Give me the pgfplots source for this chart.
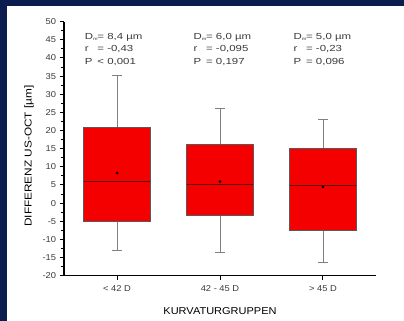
\documentclass[border=0pt]{standalone}
\usepackage{fontspec}
\setmainfont{Liberation Sans}
\usepackage{pgfplots}
\pgfplotsset{compat=1.18}
\usepgfplotslibrary{statistics}
\definecolor{navy}{HTML}{0B1C4E}
\definecolor{txt}{HTML}{3A3A3A}
\definecolor{boxred}{HTML}{F50000}
\definecolor{med}{HTML}{5A0A0A}
\newcommand{\Dm}{\makebox[9.7pt][l]{D\raisebox{-1.6pt}{\fontsize{4.2}{5}\selectfont m}}}
\newcommand{\lab}[1]{\makebox[9.7pt][l]{#1}}
\begin{document}
\begin{tikzpicture}
\useasboundingbox (0pt,0pt) rectangle (404pt,321pt);
\fill[navy] (0pt,0pt) rectangle (404pt,321pt);
\fill[white] (7pt,0pt) rectangle (404pt,315pt);
\begin{axis}[
  at={(64pt,45.3pt)}, anchor=south west,
  scale only axis, width=312pt, height=254pt,
  xmin=-0.515, xmax=2.515, ymin=-20, ymax=50,
  axis x line*=bottom, axis y line*=left,
  axis line style={line width=1.3pt, black},
  ytick={-20,-15,...,50}, minor y tick num=1,
  xtick={0,1,2}, xticklabels={< 42 D, 42 - 45 D, > 45 D},
  tick align=outside,
  major tick length=4pt, minor tick length=2.5pt,
  tick style={line width=1pt, black},
  /pgf/number format/assume math mode=true,
  tick label style={font=\fontsize{8.5}{10}\selectfont, text=txt, xscale=1.1},
  xticklabel style={yshift=-2pt},
  ylabel={\scalebox{1.18}[1]{DIFFERENZ US-OCT [µm]}},
  xlabel={\scalebox{1.1}[1]{KURVATURGRUPPEN}},
  label style={font=\fontsize{10.5}{12}\selectfont, text=txt},
  every axis y label/.style={at={(axis description cs:-0.112,0.471)}, rotate=90, anchor=center},
  every axis x label/.style={at={(axis description cs:0.5,-0.138)}, anchor=center},
  clip=false,
  boxplot/draw direction=y,
  boxplot/every box/.style={draw=gray!70!black, fill=boxred, line width=0.5pt},
  boxplot/every whisker/.style={draw=gray, line width=0.6pt},
  boxplot/every median/.style={draw=med, line width=0.8pt},
  boxplot/every average/.style={/tikz/mark=*, /tikz/mark size=1.2pt, /tikz/mark options={black, fill=black}},
]
\addplot[boxplot prepared={draw position=0, lower whisker=-13, lower quartile=-5, median=6, upper quartile=21, upper whisker=35.3, average=8.3, box extend=0.65, whisker extend=0.09}] coordinates {};
\addplot[boxplot prepared={draw position=1, lower whisker=-13.5, lower quartile=-3.3, median=5.2, upper quartile=16.3, upper whisker=26, average=5.9, box extend=0.65, whisker extend=0.09}] coordinates {};
\addplot[boxplot prepared={draw position=2, lower whisker=-16.3, lower quartile=-7.6, median=5, upper quartile=15, upper whisker=23, average=4.5, box extend=0.65, whisker extend=0.09}] coordinates {};
\node[anchor=north west, inner sep=0pt, text=txt, font=\fontsize{8.8}{12.5}\selectfont] at (axis cs:-0.315,47.64) {\scalebox{1.3}[1]{\begin{tabular}{@{}l@{}}\Dm= 8,4 µm\\ \lab{r}= -0,43\\ \lab{P}< 0,001\end{tabular}}};
\node[anchor=north west, inner sep=0pt, text=txt, font=\fontsize{8.8}{12.5}\selectfont] at (axis cs:0.741,47.64) {\scalebox{1.3}[1]{\begin{tabular}{@{}l@{}}\Dm= 6,0 µm\\ \lab{r}= -0,095\\ \lab{P}= 0,197\end{tabular}}};
\node[anchor=north west, inner sep=0pt, text=txt, font=\fontsize{8.8}{12.5}\selectfont] at (axis cs:1.712,47.64) {\scalebox{1.3}[1]{\begin{tabular}{@{}l@{}}\Dm= 5,0 µm\\ \lab{r}= -0,23\\ \lab{P}= 0,096\end{tabular}}};
\end{axis}
\end{tikzpicture}
\end{document}
